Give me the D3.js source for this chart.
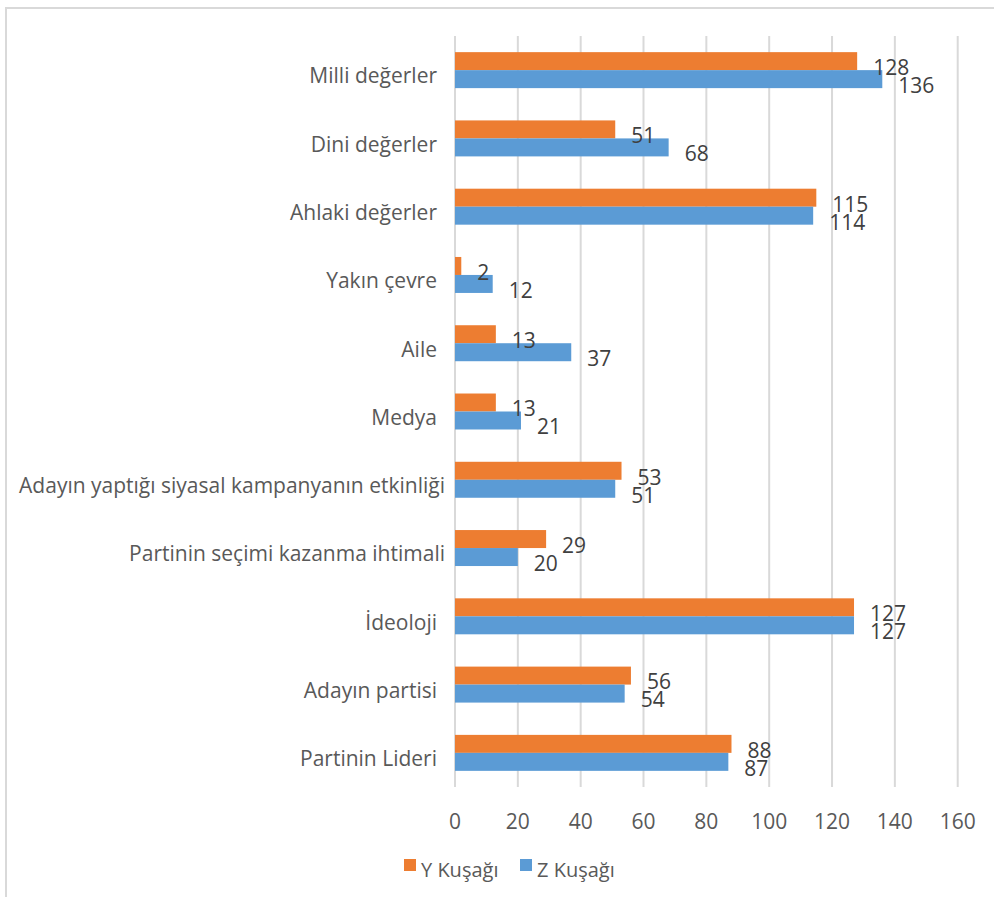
<!DOCTYPE html>
<html>
<head>
<meta charset="utf-8">
<script src="https://cdn.jsdelivr.net/npm/d3@7"></script>
<style>
  body { margin: 0; background: #fff; }
  text { font-family: "Open Sans", sans-serif; fill: #595959; }
</style>
</head>
<body>
<div id="chart"></div>
<script>
// categories, top to bottom
var categories = ["Milli değerler", "Dini değerler", "Ahlaki değerler", "Yakın çevre", "Aile",
    "Medya", "Adayın yaptığı siyasal kampanyanın etkinliği", "Partinin seçimi kazanma ihtimali",
    "İdeoloji", "Adayın partisi", "Partinin Lideri"];
var seriesNames = ["Y Kuşağı", "Z Kuşağı"];
var yKusagi = [128, 51, 115, 2, 13, 13, 53, 29, 127, 56, 88];
var zKusagi = [136, 68, 114, 12, 37, 21, 51, 20, 127, 54, 87];
var xTicks = [0, 20, 40, 60, 80, 100, 120, 140, 160];
var colors = ["#ED7D31", "#5B9BD5"];

var width = 994, height = 897;

var svg = d3.select("#chart").append("svg")
    .attr("width", width)
    .attr("height", height);

// chart frame (runs off right and bottom edges)
svg.append("rect")
    .attr("x", 6).attr("y", 8)
    .attr("width", 1100).attr("height", 1000)
    .attr("fill", "none")
    .attr("stroke", "#d9d9d9")
    .attr("stroke-width", 2);

var x = d3.scaleLinear().domain([0, 160]).range([455, 957.7]);
var y = d3.scaleBand().domain(categories).range([36, 787])
    .paddingInner(0.473).paddingOuter(0.2365);
var ySub = d3.scaleBand().domain(seriesNames).range([0, y.bandwidth()]);

var rows = categories.map(function(c, i) {
    return {cat: c, values: [{s: seriesNames[0], v: yKusagi[i]}, {s: seriesNames[1], v: zKusagi[i]}]};
});

// gridlines
svg.append("g").attr("class", "grid")
    .selectAll("line")
    .data(xTicks)
    .enter().append("line")
    .attr("x1", function(d) { return x(d); })
    .attr("x2", function(d) { return x(d); })
    .attr("y1", 36).attr("y2", 787)
    .attr("stroke", "#d9d9d9")
    .attr("stroke-width", 2);

// tick labels
svg.append("g")
    .selectAll("text")
    .data(xTicks)
    .enter().append("text")
    .attr("x", function(d) { return x(d); })
    .attr("y", 822)
    .attr("dy", "0.35em")
    .attr("text-anchor", "middle")
    .style("font-size", "21px")
    .text(function(d) { return d; });

// category labels
svg.append("g")
    .selectAll("text")
    .data(categories)
    .enter().append("text")
    .attr("x", function(d) { return d.length > 30 ? 445 : 437; })
    .attr("y", function(d) { return y(d) + y.bandwidth() / 2 + 6; })
    .attr("dy", "0.35em")
    .attr("text-anchor", "end")
    .style("font-size", "21px")
    .text(function(d) { return d; });

var groups = svg.append("g")
    .selectAll("g")
    .data(rows)
    .enter().append("g")
    .attr("transform", function(d) { return "translate(0," + y(d.cat) + ")"; });

groups.selectAll("rect")
    .data(function(d) { return d.values; })
    .enter().append("rect")
    .attr("x", x(0))
    .attr("y", function(d) { return ySub(d.s); })
    .attr("width", function(d) { return x(d.v) - x(0); })
    .attr("height", ySub.bandwidth())
    .attr("fill", function(d, i) { return colors[i]; });

groups.selectAll("text")
    .data(function(d) { return d.values; })
    .enter().append("text")
    .attr("x", function(d) { return x(d.v) + 16; })
    .attr("y", function(d) { return ySub(d.s) + ySub.bandwidth() / 2 + 6.5; })
    .attr("dy", "0.35em")
    .style("font-size", "21px")
    .style("fill", "#404040")
    .text(function(d) { return d.v; });

// legend
var legendX = [404, 520];
var legend = svg.append("g")
    .selectAll("g")
    .data(seriesNames)
    .enter().append("g")
    .attr("transform", function(d, i) { return "translate(" + legendX[i] + ",859)"; });
legend.append("rect")
    .attr("width", 12).attr("height", 12)
    .attr("fill", function(d, i) { return colors[i]; });
legend.append("text")
    .attr("x", 17).attr("y", 11)
    .attr("dy", "0.35em")
    .style("font-size", "20px")
    .text(function(d) { return d; });
</script>
</body>
</html>
